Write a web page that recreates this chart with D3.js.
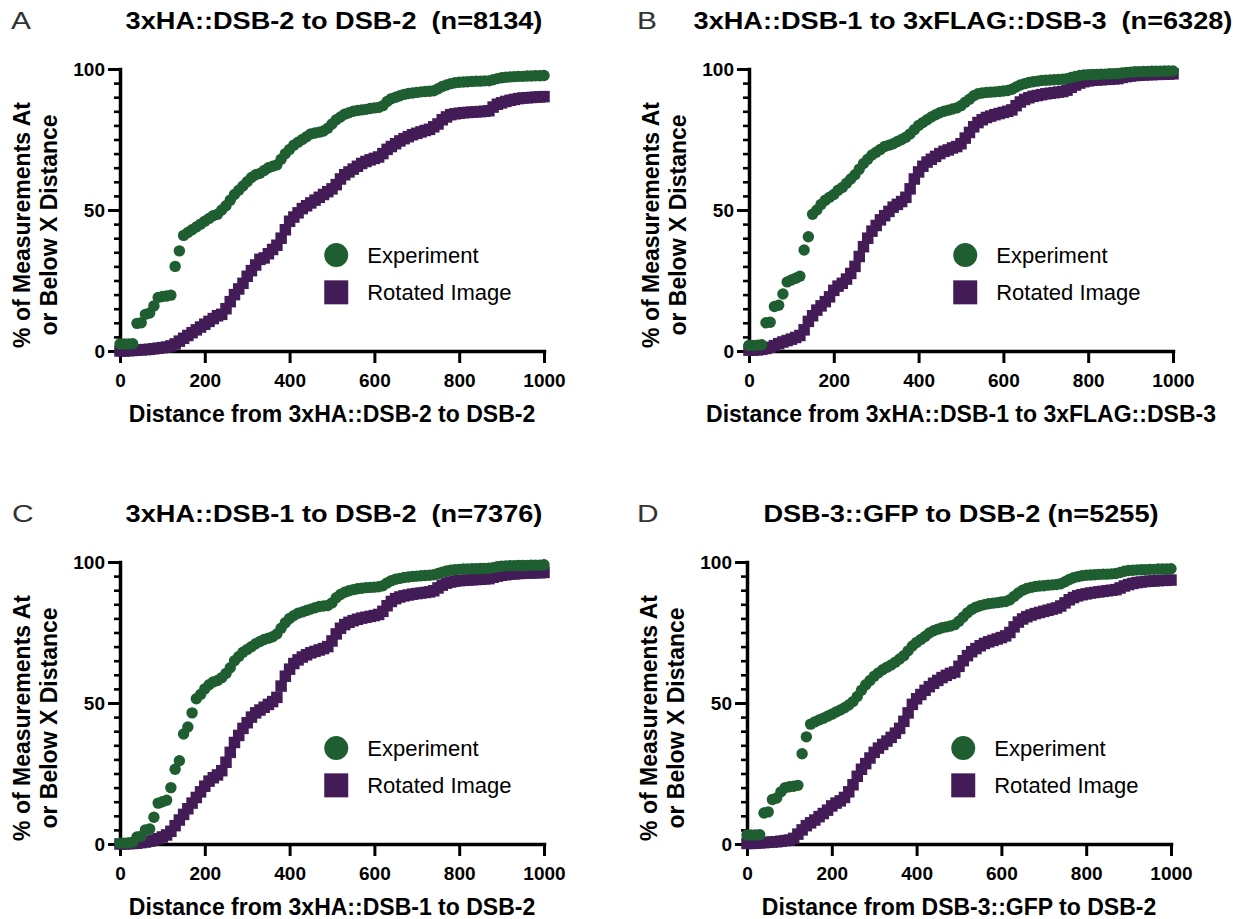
<!DOCTYPE html>
<html>
<head>
<meta charset="utf-8">
<script src="https://cdn.jsdelivr.net/npm/d3@7"></script>
<style>
  body { margin: 0; background: #fff; }
  svg text { font-family: "Liberation Sans", Arial, sans-serif; }
</style>
</head>
<body>
<svg width="1233" height="919"></svg>
<script>
const svg = d3.select('svg');

// x positions of every plotted point (distance)
const distances = [0,10,20,30,40,50,60,70,80,90,100,110,120,130,140,150,160,170,180,190,200,
  210,220,230,240,250,260,270,280,290,300,310,320,330,340,350,360,370,380,390,400,
  410,420,430,440,450,460,470,480,490,500,510,520,530,540,550,560,570,580,590,600,
  610,620,630,640,650,660,670,680,690,700,710,720,730,740,750,760,770,780,790,800,
  810,820,830,840,850,860,870,880,890,900,910,920,930,940,950,960,970,980,990,1000];

const xTicks = [0, 200, 400, 600, 800, 1000];
const yTicks = [0, 50, 100];
const seriesNames = ['Experiment', 'Rotated Image'];

// A: 3xHA::DSB-2 to DSB-2
const expA = [2.5,2.5,2.5,2.6,9.8,10,13,13.5,16,19,19.3,19.5,19.8,30,35.5,41,42,43,44,45,46,
  47,48,48.5,50,51.5,53.5,55.5,57,58.5,60,61.5,62.5,63,64,65,65.5,66,68,70,71.5,
  73,74,75,76,77,77.3,77.6,78,79,80.5,82,83,84,84.5,85,85.3,85.5,85.7,86,86.2,
  86.4,87,88.5,89.5,90,90.5,91,91.3,91.5,91.7,91.9,92,92.1,92.3,93,93.8,94.3,94.8,95.1,95.3,
  95.4,95.5,95.6,95.7,95.7,95.8,95.8,96.2,96.6,96.9,97.1,97.2,97.3,97.4,97.4,97.5,97.5,97.6,97.6,97.7];
const rotA = [0,0,0.1,0.2,0.3,0.4,0.5,0.6,0.8,1,1.2,1.4,1.8,2.5,3.5,4.5,5.5,6.5,7.5,8.5,9.5,
  10.5,11.5,12.5,13,15,17.5,20,22,24,26.5,28.5,30.5,32.5,33,34.5,36,37.5,40,43,46,
  47.5,49,50.5,51.5,52.5,53.5,54.5,55.5,56.5,57.5,59,61,62.5,63.5,64.5,65.5,66.5,67.2,67.8,68.3,
  68.8,70,71.5,72.5,73.5,74.5,75.3,76,76.7,77.2,77.7,78.2,78.6,79.5,80.5,82,83,83.8,84.1,84.3,
  84.5,84.6,84.7,84.8,84.9,85,85.2,86.5,87.5,88,88.5,88.9,89.2,89.5,89.7,89.8,89.9,90,90.1,90.2];

// B: 3xHA::DSB-1 to 3xFLAG::DSB-3
const expB = [2,2,2.1,2.2,10,10.2,15.8,16.2,20.2,24.5,25.2,25.8,26.5,35.8,40.5,48.5,50,52,53.5,54.5,55.5,
  57,58,59.5,61,62.5,64.5,66.5,68,69.5,70.5,71.5,72.5,73,73.5,74.3,75,75.8,77,78.5,80,
  81,82,83,83.8,84.5,85,85.4,85.8,86.2,87,88.2,89.3,90.5,91.2,91.5,91.7,91.8,91.9,92,92.2,
  92.4,92.8,93.6,94.3,94.8,95.2,95.5,95.7,95.9,96,96.1,96.2,96.3,96.4,96.6,97,97.4,97.7,97.9,98,
  98.1,98.1,98.2,98.2,98.3,98.3,98.4,98.6,98.8,98.9,99,99,99.1,99.1,99.2,99.2,99.2,99.3,99.3,99.3];
const rotB = [0.3,0.3,0.4,0.6,0.9,1.3,1.9,2.6,3.2,3.7,4.2,4.8,5.5,7.5,10.5,12.5,14.5,16,17.5,19.2,21.5,
  23,24,25.5,27.5,30,33.5,37,40,42.5,44.5,46.5,48,49.5,51,52,53,54.5,57.5,61,63.5,
  65.5,67,68,69,70,70.8,71.3,72,72.5,73.5,75.5,77.5,79.5,81,82,82.8,83.3,83.8,84.2,84.6,
  85,85.5,87,88.3,89.2,89.8,90.3,90.6,90.9,91.2,91.4,91.6,91.8,92,92.5,93.5,94.3,95,95.5,95.8,
  96,96.1,96.2,96.3,96.4,96.5,96.6,97,97.3,97.5,97.7,97.8,97.9,98,98,98.1,98.1,98.2,98.2,98.3];

// C: 3xHA::DSB-1 to DSB-2
const expC = [0.3,0.3,0.4,0.6,2.5,2.8,5,5.3,9.5,14.5,15,15.5,20,26.5,29.5,39,41.5,46.5,51.5,53,55,
  56.5,57.5,58,59,60.5,62.5,65,66.5,68,69,70,71,71.8,72.5,73,73.5,74.5,76.5,78.5,80,
  81,81.8,82.3,82.8,83.3,83.8,84.2,84.4,84.6,85.5,87.3,88.5,89.3,89.8,90.2,90.5,90.7,90.9,91,91.1,
  91.2,91.6,92.6,93.4,93.9,94.2,94.5,94.7,94.9,95,95.1,95.2,95.3,95.5,95.9,96.4,96.8,97.1,97.3,97.4,
  97.5,97.5,97.6,97.6,97.7,97.7,97.8,98,98.3,98.5,98.6,98.7,98.7,98.8,98.8,98.8,98.9,98.9,98.9,99];
const rotC = [0,0,0.1,0.2,0.3,0.5,0.7,1,1.4,1.9,2.5,3.2,4.5,6.5,8.5,10.5,12.5,14.5,16.5,18.5,20.5,
  22.3,23.5,24.5,26,29,32.5,36,38.5,41,43,45,46.5,47.5,48.5,49.5,50.5,52,56,59.5,62,
  64,65.3,66.3,67.1,67.8,68.3,68.8,69.3,70,72,74.5,76.5,77.8,78.6,79.2,79.7,80.1,80.4,80.7,81,
  81.4,82.5,84.5,86,87,87.6,88,88.3,88.6,88.8,89,89.2,89.4,89.8,90.8,91.8,92.5,92.9,93.2,93.4,
  93.5,93.6,93.7,93.8,93.9,94,94.1,94.6,95,95.3,95.5,95.7,95.8,95.9,96,96.1,96.1,96.2,96.2,96.3];

// D: DSB-3::GFP to DSB-2
const expD = [3.2,3.2,3.2,3.3,11,11.4,15.8,16.3,18.5,20,20.3,20.5,20.8,32,38,42.5,43.3,44,44.6,45.3,46,
  46.8,47.5,48.3,49.3,50.5,52.3,54.5,56.5,58,59.5,60.7,61.8,62.7,63.5,64.5,65.6,66.8,68.5,70.2,71.5,
  72.5,73.6,74.8,75.6,76.2,76.7,77,77.3,77.8,79,80.5,82,83.2,84,84.5,84.9,85.2,85.4,85.6,85.8,
  86,86.6,87.8,89,90,90.6,91,91.3,91.5,91.6,91.8,91.9,92,92.3,93,93.8,94.4,94.8,95.1,95.3,
  95.4,95.5,95.6,95.7,95.7,95.8,95.9,96.3,96.7,97,97.1,97.2,97.3,97.3,97.4,97.4,97.5,97.5,97.5,97.6];
const rotD = [0.2,0.2,0.3,0.4,0.5,0.6,0.7,0.8,1,1.2,1.4,2,3.5,5,6.5,7.5,8.5,9.7,10.8,12,13.5,
  14.5,15.3,16.5,18.5,21,24,26.5,28.5,30.5,32.5,34,35.3,36.5,37.8,39.3,41,43.5,46.5,49.5,51.5,
  53,54.5,55.8,57,58,59,59.8,60.5,61,63,65,66.8,68.2,69.3,70.3,71.1,71.7,72.2,72.7,73.2,
  73.8,75,77,78.7,79.8,80.6,81.2,81.7,82.1,82.5,82.9,83.3,83.7,84.4,85.5,86.6,87.4,88,88.4,88.7,
  89,89.2,89.4,89.6,89.8,90,90.2,90.8,91.5,92,92.4,92.7,92.9,93.1,93.2,93.3,93.4,93.5,93.5,93.6];

const panelLetters = ['A', 'B', 'C', 'D'];
const titles = [
  '3xHA::DSB-2 to DSB-2  (n=8134)',
  '3xHA::DSB-1 to 3xFLAG::DSB-3  (n=6328)',
  '3xHA::DSB-1 to DSB-2  (n=7376)',
  'DSB-3::GFP to DSB-2 (n=5255)'
];
const xLabels = [
  'Distance from 3xHA::DSB-2 to DSB-2',
  'Distance from 3xHA::DSB-1 to 3xFLAG::DSB-3',
  'Distance from 3xHA::DSB-1 to DSB-2',
  'Distance from DSB-3::GFP to DSB-2'
];
const yLabelLines = ['% of Measurements At', 'or Below X Distance'];
const experiments = [expA, expB, expC, expD];
const rotations = [rotA, rotB, rotC, rotD];

const green = '#1e5e30';
const purple = '#431c57';

// plot boxes of the four panels (pixels)
const boxes = [
  {left: 120, right: 544, top: 69, bottom: 351, letterX: 11},
  {left: 749, right: 1173, top: 69, bottom: 351, letterX: 637},
  {left: 120, right: 544, top: 562, bottom: 844, letterX: 12},
  {left: 747, right: 1171, top: 562, bottom: 844, letterX: 637}
];

const minorTicks = d3.range(5, 100, 5).filter(d => d !== 50);

const render = i => {
  const box = boxes[i];
  const g = svg.append('g');

  const xScale = d3.scaleLinear().domain([0, 1000]).range([box.left, box.right]);
  const yScale = d3.scaleLinear().domain([0, 100]).range([box.bottom, box.top]);

  // minor y ticks
  const minorG = g.append('g')
    .attr('transform', `translate(${box.left},0)`)
    .call(d3.axisLeft(yScale).tickValues(minorTicks).tickSize(6).tickSizeOuter(0).tickFormat(''));
  minorG.select('.domain').remove();
  minorG.selectAll('line').attr('stroke-width', 2.6);

  // y axis
  const yAxisG = g.append('g')
    .attr('transform', `translate(${box.left},0)`)
    .call(d3.axisLeft(yScale).tickValues(yTicks).tickSize(12).tickPadding(3)
      .tickSizeOuter(0).tickFormat(d3.format('d')));

  // x axis
  const xAxisG = g.append('g')
    .attr('transform', `translate(0,${box.bottom})`)
    .call(d3.axisBottom(xScale).tickValues(xTicks).tickSize(12).tickPadding(11)
      .tickSizeOuter(0).tickFormat(d3.format('d')));

  [xAxisG, yAxisG].forEach(a => {
    a.select('.domain').attr('stroke-width', 3.5).attr('stroke-linecap', 'square');
    a.selectAll('.tick line').attr('stroke-width', 3);
    a.selectAll('.tick text')
      .attr('font-size', 19)
      .attr('font-weight', 'bold')
      .attr('fill', '#000')
      .style('font-family', '"Liberation Sans", Arial, sans-serif');
  });

  // points: rotated image (squares) under experiment (circles)
  const sq = 11.5;
  g.append('g').selectAll('rect').data(rotations[i])
    .enter().append('rect')
      .attr('x', (d, j) => xScale(distances[j]) - sq / 2)
      .attr('y', d => yScale(d) - sq / 2)
      .attr('width', sq)
      .attr('height', sq)
      .attr('fill', purple);

  g.append('g').selectAll('circle').data(experiments[i])
    .enter().append('circle')
      .attr('cx', (d, j) => xScale(distances[j]))
      .attr('cy', d => yScale(d))
      .attr('r', 5.7)
      .attr('fill', green);

  // title + panel letter
  const titleY = box.top - 40;
  g.append('text')
    .attr('transform', `translate(${(box.left + box.right) / 2 + 2},${titleY}) scale(1.18,1)`)
    .attr('text-anchor', 'middle')
    .attr('font-size', 23)
    .attr('font-weight', 'bold')
    .style('white-space', 'pre')
    .text(titles[i]);

  g.append('text')
    .attr('transform', `translate(${box.letterX},${titleY}) scale(1.3,1)`)
    .attr('font-size', 23)
    .attr('fill', '#333')
    .text(panelLetters[i]);

  // x axis label
  g.append('text')
    .attr('x', (box.left + box.right) / 2)
    .attr('y', box.bottom + 71)
    .attr('text-anchor', 'middle')
    .attr('font-size', 23)
    .attr('font-weight', 'bold')
    .text(xLabels[i]);

  // y axis label (two lines)
  const midY = (box.top + box.bottom) / 2 + 15;
  yLabelLines.forEach((line, k) => {
    g.append('text')
      .attr('transform', `translate(${box.left - 90 + k * 27},${midY}) rotate(-90)`)
      .attr('text-anchor', 'middle')
      .attr('font-size', 23)
      .attr('font-weight', 'bold')
      .text(line);
  });

  // legend
  const lx = xScale(510);
  const legend = [
    {y: yScale(34), name: seriesNames[0]},
    {y: yScale(20.8), name: seriesNames[1]}
  ];
  g.append('circle')
    .attr('cx', lx).attr('cy', legend[0].y).attr('r', 12).attr('fill', green);
  g.append('rect')
    .attr('x', lx - 12).attr('y', legend[1].y - 12)
    .attr('width', 24).attr('height', 24).attr('fill', purple);
  legend.forEach(d => {
    g.append('text')
      .attr('x', lx + 31)
      .attr('y', d.y + 7.5)
      .attr('font-size', 22)
      .text(d.name);
  });
};

[0, 1, 2, 3].forEach(render);
</script>
</body>
</html>
